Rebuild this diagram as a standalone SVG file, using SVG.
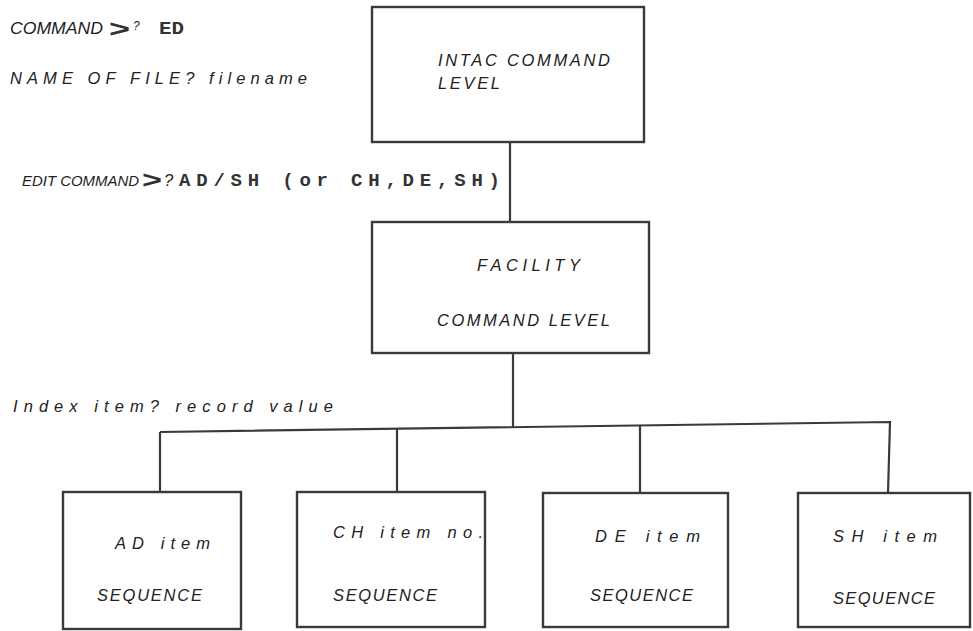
<svg xmlns="http://www.w3.org/2000/svg" width="973" height="631" viewBox="0 0 973 631">
<style>
.box{fill:none;stroke:#3a3a3a;stroke-width:2.4}
.ln{fill:none;stroke:#3a3a3a;stroke-width:2.2}
.t{font-family:"Liberation Sans","DejaVu Sans",sans-serif;font-style:italic;font-size:16.5px;fill:#222}
.b{font-family:"Liberation Mono","DejaVu Sans Mono",monospace;font-weight:bold;font-size:19px;fill:#333}
.gt{font-family:"Liberation Sans","DejaVu Sans",sans-serif;font-weight:bold;font-size:24px;fill:#333}
</style>
<rect width="973" height="631" fill="#fff"/>
<g id="prompts">
<text class="t" x="10" y="34" style="font-size:16px" textLength="93" lengthAdjust="spacingAndGlyphs">COMMAND</text>
<text class="gt" x="109" y="37" textLength="21" lengthAdjust="spacingAndGlyphs">&gt;</text>
<text class="t" x="133" y="30" style="font-size:12px">?</text>
<text class="b" x="159" y="34" textLength="25" lengthAdjust="spacingAndGlyphs">ED</text>
<text class="t" x="10" y="84" textLength="297" lengthAdjust="spacing">NAME OF FILE? filename</text>
<text class="t" x="22" y="186" style="font-size:15.5px" textLength="117" lengthAdjust="spacingAndGlyphs">EDIT COMMAND</text>
<text class="gt" x="142" y="188" textLength="20" lengthAdjust="spacingAndGlyphs">&gt;</text>
<text class="t" x="164" y="186">?</text>
<text class="b" x="179" y="186" textLength="321" lengthAdjust="spacing">AD/SH (or CH,DE,SH)</text>
<text class="t" x="13" y="412" textLength="320" lengthAdjust="spacing">Index item? record value</text>
</g>
<g id="connectors">
<line class="ln" x1="510" y1="142" x2="510" y2="222"/>
<line class="ln" x1="513" y1="353" x2="513" y2="427"/>
<polyline class="ln" points="160,432 890,422 888,493"/>
<line class="ln" x1="160" y1="432" x2="160" y2="492"/>
<line class="ln" x1="397" y1="429" x2="397" y2="492"/>
<line class="ln" x1="640" y1="426" x2="640" y2="493"/>
</g>
<g id="intac">
<rect class="box" x="372" y="7" width="272" height="135"/>
<text class="t" x="438" y="66" textLength="172" lengthAdjust="spacing">INTAC COMMAND</text>
<text class="t" x="438" y="89" textLength="62" lengthAdjust="spacing">LEVEL</text>
</g>
<g id="facility">
<rect class="box" x="372" y="222" width="277" height="131"/>
<text class="t" x="477" y="271" textLength="103" lengthAdjust="spacing">FACILITY</text>
<text class="t" x="437" y="326" textLength="173" lengthAdjust="spacing">COMMAND LEVEL</text>
</g>
<g id="ad">
<rect class="box" x="63" y="492" width="178" height="137"/>
<text class="t" x="115" y="549" textLength="95" lengthAdjust="spacing">AD item</text>
<text class="t" x="97" y="601" textLength="105" lengthAdjust="spacing">SEQUENCE</text>
</g>
<g id="ch">
<rect class="box" x="297" y="492" width="188" height="135"/>
<text class="t" x="333" y="538" textLength="150" lengthAdjust="spacing">CH item no.</text>
<text class="t" x="333" y="601" textLength="104" lengthAdjust="spacing">SEQUENCE</text>
</g>
<g id="de">
<rect class="box" x="543" y="493" width="185" height="134"/>
<text class="t" x="595" y="542" textLength="105" lengthAdjust="spacing">DE item</text>
<text class="t" x="590" y="601" textLength="103" lengthAdjust="spacing">SEQUENCE</text>
</g>
<g id="sh">
<rect class="box" x="798" y="493" width="172" height="134"/>
<text class="t" x="833" y="542" textLength="104" lengthAdjust="spacing">SH item</text>
<text class="t" x="833" y="604" textLength="102" lengthAdjust="spacing">SEQUENCE</text>
</g>
</svg>
